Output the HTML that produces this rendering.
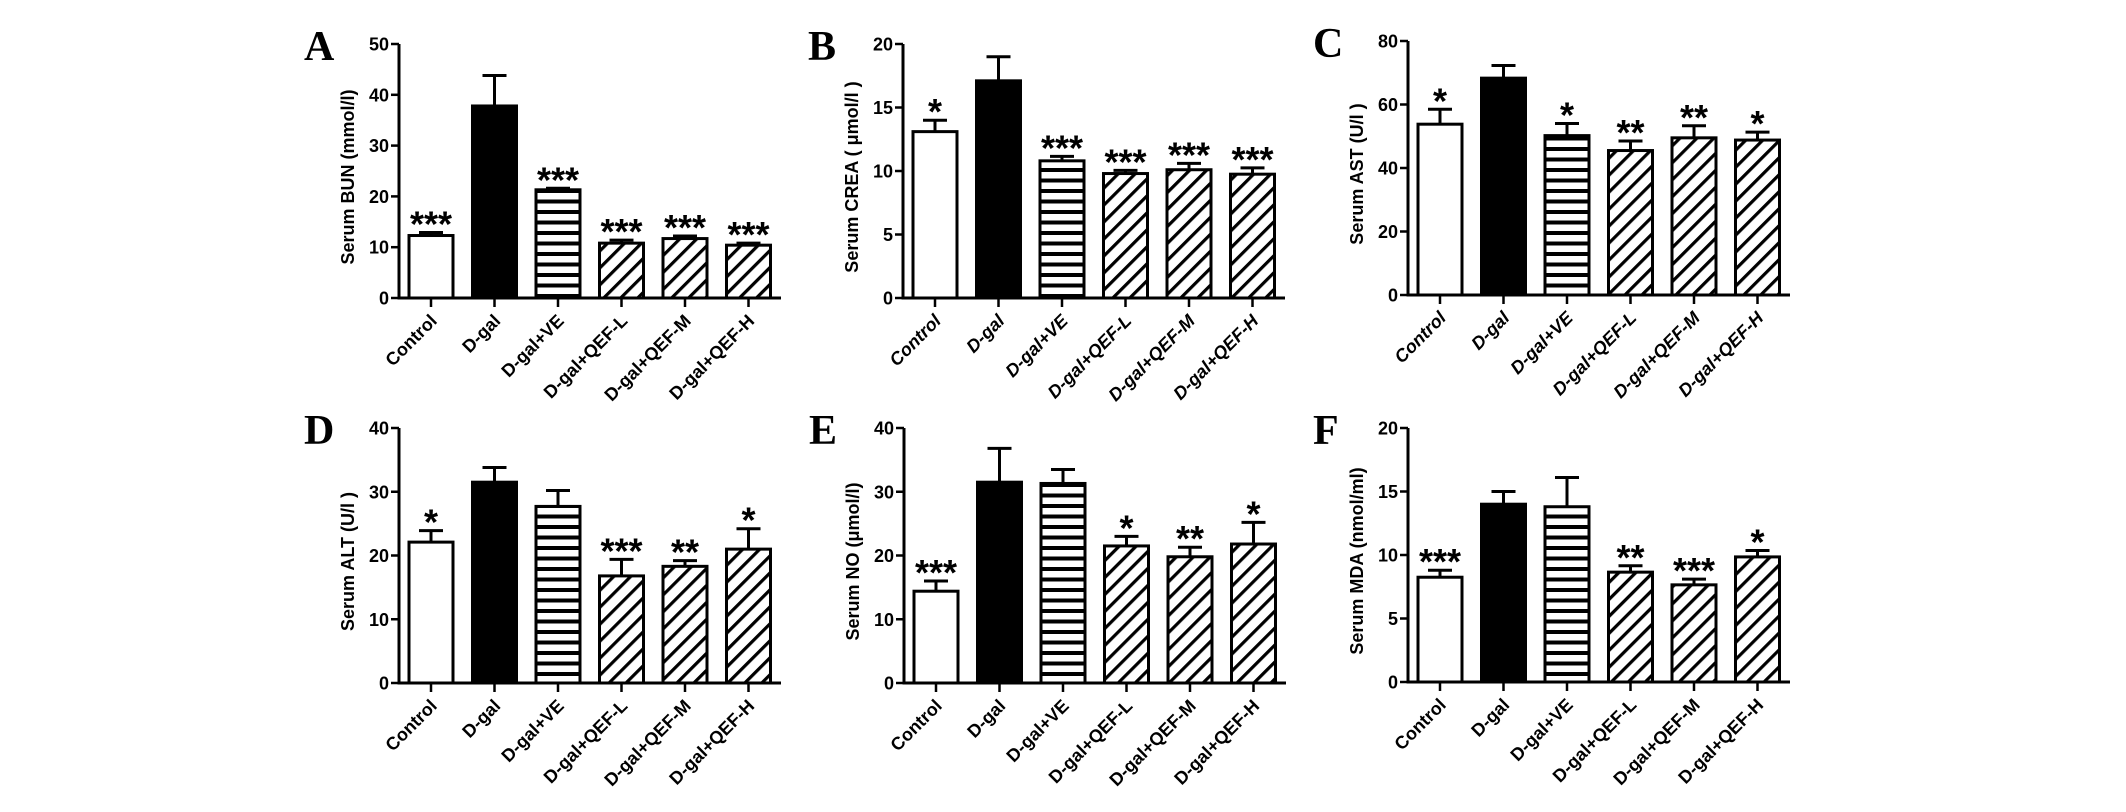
<!DOCTYPE html>
<html><head><meta charset="utf-8">
<style>
html,body{margin:0;padding:0;background:#fff;}
svg{display:block;}
text{font-family:"Liberation Sans",Arial,sans-serif;}
</style></head>
<body>
<svg id="fig" width="2126" height="812" viewBox="0 0 2126 812" xmlns="http://www.w3.org/2000/svg">
<defs>
<pattern id="hstripe" patternUnits="userSpaceOnUse" width="10" height="10.5">
<rect width="10" height="10.5" fill="#fff"/><rect y="0" width="10" height="4" fill="#000"/>
</pattern>
<pattern id="diag" patternUnits="userSpaceOnUse" width="12" height="12" patternTransform="rotate(45)">
<rect width="12" height="12" fill="#fff"/><rect x="0" y="0" width="3.2" height="12" fill="#000"/>
</pattern>
</defs>
</svg>
<script>
const categories = ["Control","D-gal","D-gal+VE","D-gal+QEF-L","D-gal+QEF-M","D-gal+QEF-H"];
const bunValues = [12.3, 37.8, 21.3, 10.8, 11.7, 10.4];
const bunErrors = [0.6, 6.0, 0.3, 0.6, 0.5, 0.4];
const bunStars = ["***","","***","***","***","***"];
const bunTicks = [0,10,20,30,40,50];
const creaValues = [13.1, 17.1, 10.8, 9.8, 10.1, 9.75];
const creaErrors = [0.9, 1.9, 0.35, 0.25, 0.5, 0.5];
const creaStars = ["*","","***","***","***","***"];
const creaTicks = [0,5,10,15,20];
const astValues = [53.8, 68.3, 50.2, 45.5, 49.5, 48.8];
const astErrors = [4.7, 4.0, 3.8, 3.0, 3.8, 2.5];
const astStars = ["*","","*","**","**","*"];
const astTicks = [0,20,40,60,80];
const altValues = [22.1, 31.5, 27.7, 16.8, 18.3, 21.0];
const altErrors = [1.8, 2.3, 2.5, 2.6, 0.9, 3.2];
const altStars = ["*","","","***","**","*"];
const altTicks = [0,10,20,30,40];
const noValues = [14.4, 31.5, 31.3, 21.5, 19.8, 21.8];
const noErrors = [1.6, 5.3, 2.2, 1.5, 1.5, 3.4];
const noStars = ["***","","","*","**","*"];
const noTicks = [0,10,20,30,40];
const mdaValues = [8.25, 14.0, 13.8, 8.65, 7.65, 9.85];
const mdaErrors = [0.55, 1.0, 2.3, 0.5, 0.45, 0.5];
const mdaStars = ["***","","","**","***","*"];
const mdaTicks = [0,5,10,15,20];

const panels = [
 {letter:"A", title:"Serum BUN (mmol/l)", values:bunValues, errors:bunErrors, stars:bunStars, ticks:bunTicks, ax:399, top:44, bottom:298, italic:false},
 {letter:"B", title:"Serum CREA ( \u03bcmol/l )", values:creaValues, errors:creaErrors, stars:creaStars, ticks:creaTicks, ax:903, top:44, bottom:298, italic:true},
 {letter:"C", title:"Serum AST (U/l )", values:astValues, errors:astErrors, stars:astStars, ticks:astTicks, ax:1408, top:41, bottom:295, italic:true},
 {letter:"D", title:"Serum ALT (U/l )", values:altValues, errors:altErrors, stars:altStars, ticks:altTicks, ax:399, top:428, bottom:683, italic:false},
 {letter:"E", title:"Serum NO (\u03bcmol/l)", values:noValues, errors:noErrors, stars:noStars, ticks:noTicks, ax:904, top:428, bottom:683, italic:false},
 {letter:"F", title:"Serum MDA (nmol/ml)", values:mdaValues, errors:mdaErrors, stars:mdaStars, ticks:mdaTicks, ax:1408, top:428, bottom:682, italic:false}
];
const fills = ["#fff","#000","url(#hstripe)","url(#diag)","url(#diag)","url(#diag)"];
const NS = "http://www.w3.org/2000/svg";
const svg = document.getElementById("fig");
function mk(tag, attrs, parent){
  const e = document.createElementNS(NS, tag);
  for (const k in attrs) e.setAttribute(k, attrs[k]);
  (parent||svg).appendChild(e);
  return e;
}
panels.forEach((p, pi) => {
  const g = mk("g", {});
  
  
  const ymax = p.ticks[p.ticks.length-1];
  const yS = v => p.bottom - v/ymax*(p.bottom - p.top);
  const step = 63.5, off = 32, bw = 44;
  const xS = i => p.ax + off + i*step;
  const axEnd = p.ax + 382;
  const L = mk("text", {x:p.ax-95, y:p.top+16, style:"font-family:'Liberation Serif',serif;font-weight:bold;font-size:42px"}, g);
  L.textContent = p.letter;
  
  
  const cy = (p.top+p.bottom)/2 + 6;
  const T = mk("text", {x:p.ax-45, y:cy, "font-weight":"bold", "font-size":"18", "text-anchor":"middle", transform:`rotate(-90 ${p.ax-45} ${cy})`}, g);
  T.textContent = p.title;
  
  
  p.values.forEach((v, i) => {
    const cx = xS(i);
    const yt = yS(v), ye = yS(v + p.errors[i]);
    const eb = mk("line", {x1:cx, x2:cx, y1:yt, y2:ye, stroke:"#000", "stroke-width":3}, g);
    
    
    const cap = mk("line", {x1:cx-12, x2:cx+12, y1:ye, y2:ye, stroke:"#000", "stroke-width":3}, g);
    
    
    const r = mk("rect", {x:cx-bw/2, y:yt, width:bw, height:p.bottom-yt, fill:fills[i], stroke:"#000", "stroke-width":3}, g);
    
    
    if (p.stars[i]) {
      const s = mk("text", {x:cx, y:ye+4, "font-weight":"bold", "font-size":"36", "text-anchor":"middle"}, g);
      s.textContent = p.stars[i];
      
      
    }
    const tk = mk("line", {x1:cx, x2:cx, y1:p.bottom, y2:p.bottom+9, stroke:"#000", "stroke-width":2.5}, g);
    
    
    const lx = cx + 7, ly = p.bottom + 24;
    const lab = mk("text", {x:lx, y:ly, "font-weight":"bold", "font-size":"18", "text-anchor":"end", "font-style":p.italic?"italic":"normal", transform:`rotate(-45 ${lx} ${ly})`}, g);
    lab.textContent = categories[i];
    
    
  });
  const ya = mk("line", {x1:p.ax, x2:p.ax, y1:p.top, y2:p.bottom+1.5, stroke:"#000", "stroke-width":3}, g);
  
  
  const xa = mk("line", {x1:p.ax-1.5, x2:axEnd, y1:p.bottom, y2:p.bottom, stroke:"#000", "stroke-width":3}, g);
  
  
  p.ticks.forEach(t => {
    const y = yS(t);
    const tl = mk("line", {x1:p.ax-8, x2:p.ax, y1:y, y2:y, stroke:"#000", "stroke-width":2.5}, g);
    
    
    const tt = mk("text", {x:p.ax-10, y:y+6.5, "font-weight":"bold", "font-size":"18", "text-anchor":"end"}, g);
    tt.textContent = t;
    
    
  });
});
</script>
</body></html>
